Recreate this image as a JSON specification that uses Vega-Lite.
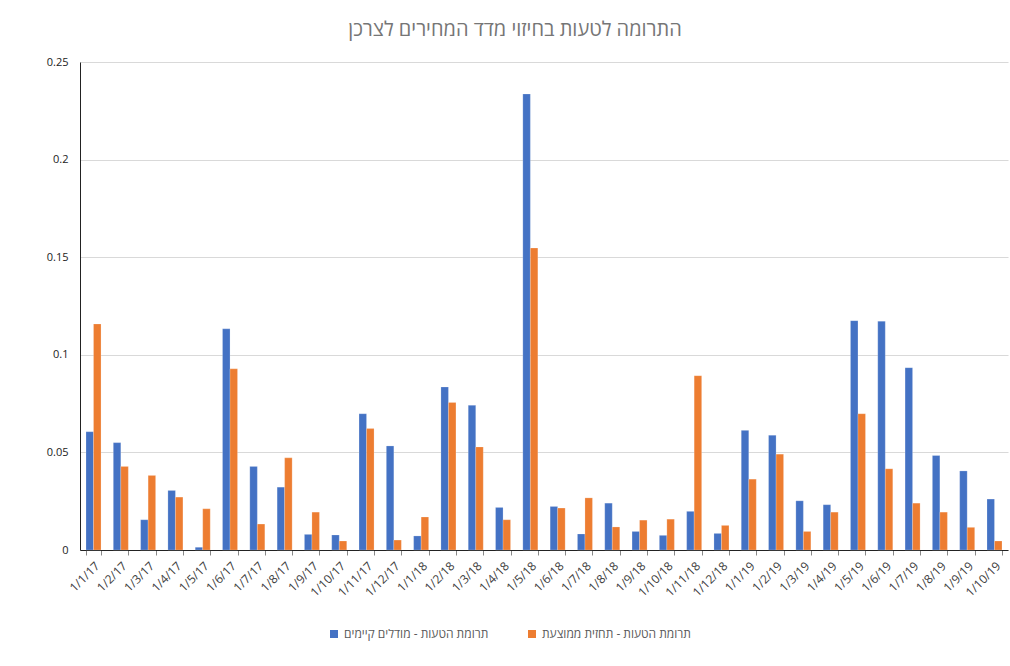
{
  "$schema": "https://vega.github.io/schema/vega-lite/v6.json",
  "width": 928,
  "height": 488,
  "autosize": {"type": "none"},
  "padding": {"left": 80, "top": 62, "right": 2, "bottom": 116},
  "background": "white",
  "title": {
    "text": "התרומה לטעות בחיזוי מדד המחירים לצרכן",
    "fontSize": 20,
    "fontWeight": "normal",
    "color": "#767676",
    "font": "Open Sans",
    "anchor": "middle",
    "dx": -29,
    "offset": 16
  },
  "data": {
    "values": [
      {"d": "1/1/17", "s": "תרומת הטעות - מודלים קיימים", "v": 0.0606},
      {"d": "1/1/17", "s": "תרומת הטעות - תחזית ממוצעת", "v": 0.1158},
      {"d": "1/2/17", "s": "תרומת הטעות - מודלים קיימים", "v": 0.0550},
      {"d": "1/2/17", "s": "תרומת הטעות - תחזית ממוצעת", "v": 0.0428},
      {"d": "1/3/17", "s": "תרומת הטעות - מודלים קיימים", "v": 0.0155},
      {"d": "1/3/17", "s": "תרומת הטעות - תחזית ממוצעת", "v": 0.0382},
      {"d": "1/4/17", "s": "תרומת הטעות - מודלים קיימים", "v": 0.0305},
      {"d": "1/4/17", "s": "תרומת הטעות - תחזית ממוצעת", "v": 0.0271},
      {"d": "1/5/17", "s": "תרומת הטעות - מודלים קיימים", "v": 0.0014},
      {"d": "1/5/17", "s": "תרומת הטעות - תחזית ממוצעת", "v": 0.0211},
      {"d": "1/6/17", "s": "תרומת הטעות - מודלים קיימים", "v": 0.1133},
      {"d": "1/6/17", "s": "תרומת הטעות - תחזית ממוצעת", "v": 0.0928},
      {"d": "1/7/17", "s": "תרומת הטעות - מודלים קיימים", "v": 0.0428},
      {"d": "1/7/17", "s": "תרומת הטעות - תחזית ממוצעת", "v": 0.0133},
      {"d": "1/8/17", "s": "תרומת הטעות - מודלים קיימים", "v": 0.0322},
      {"d": "1/8/17", "s": "תרומת הטעות - תחזית ממוצעת", "v": 0.0472},
      {"d": "1/9/17", "s": "תרומת הטעות - מודלים קיימים", "v": 0.0080},
      {"d": "1/9/17", "s": "תרומת הטעות - תחזית ממוצעת", "v": 0.0194},
      {"d": "1/10/17", "s": "תרומת הטעות - מודלים קיימים", "v": 0.0077},
      {"d": "1/10/17", "s": "תרומת הטעות - תחזית ממוצעת", "v": 0.0046},
      {"d": "1/11/17", "s": "תרומת הטעות - מודלים קיימים", "v": 0.0698},
      {"d": "1/11/17", "s": "תרומת הטעות - תחזית ממוצעת", "v": 0.0622},
      {"d": "1/12/17", "s": "תרומת הטעות - מודלים קיימים", "v": 0.0533},
      {"d": "1/12/17", "s": "תרומת הטעות - תחזית ממוצעת", "v": 0.0051},
      {"d": "1/1/18", "s": "תרומת הטעות - מודלים קיימים", "v": 0.0072},
      {"d": "1/1/18", "s": "תרומת הטעות - תחזית ממוצעת", "v": 0.0169},
      {"d": "1/2/18", "s": "תרומת הטעות - מודלים קיימים", "v": 0.0835},
      {"d": "1/2/18", "s": "תרומת הטעות - תחזית ממוצעת", "v": 0.0756},
      {"d": "1/3/18", "s": "תרומת הטעות - מודלים קיימים", "v": 0.0741},
      {"d": "1/3/18", "s": "תרומת הטעות - תחזית ממוצעת", "v": 0.0528},
      {"d": "1/4/18", "s": "תרומת הטעות - מודלים קיימים", "v": 0.0218},
      {"d": "1/4/18", "s": "תרומת הטעות - תחזית ממוצעת", "v": 0.0155},
      {"d": "1/5/18", "s": "תרומת הטעות - מודלים קיימים", "v": 0.2336},
      {"d": "1/5/18", "s": "תרומת הטעות - תחזית ממוצעת", "v": 0.1547},
      {"d": "1/6/18", "s": "תרומת הטעות - מודלים קיימים", "v": 0.0223},
      {"d": "1/6/18", "s": "תרומת הטעות - תחזית ממוצעת", "v": 0.0215},
      {"d": "1/7/18", "s": "תרומת הטעות - מודלים קיימים", "v": 0.0082},
      {"d": "1/7/18", "s": "תרומת הטעות - תחזית ממוצעת", "v": 0.0267},
      {"d": "1/8/18", "s": "תרומת הטעות - מודלים קיימים", "v": 0.0240},
      {"d": "1/8/18", "s": "תרומת הטעות - תחזית ממוצעת", "v": 0.0118},
      {"d": "1/9/18", "s": "תרומת הטעות - מודלים קיימים", "v": 0.0095},
      {"d": "1/9/18", "s": "תרומת הטעות - תחזית ממוצעת", "v": 0.0153},
      {"d": "1/10/18", "s": "תרומת הטעות - מודלים קיימים", "v": 0.0075},
      {"d": "1/10/18", "s": "תרומת הטעות - תחזית ממוצעת", "v": 0.0158},
      {"d": "1/11/18", "s": "תרומת הטעות - מודלים קיימים", "v": 0.0198},
      {"d": "1/11/18", "s": "תרומת הטעות - תחזית ממוצעת", "v": 0.0893},
      {"d": "1/12/18", "s": "תרומת הטעות - מודלים קיימים", "v": 0.0085},
      {"d": "1/12/18", "s": "תרומת הטעות - תחזית ממוצעת", "v": 0.0126},
      {"d": "1/1/19", "s": "תרומת הטעות - מודלים קיימים", "v": 0.0613},
      {"d": "1/1/19", "s": "תרומת הטעות - תחזית ממוצעת", "v": 0.0363},
      {"d": "1/2/19", "s": "תרומת הטעות - מודלים קיימים", "v": 0.0588},
      {"d": "1/2/19", "s": "תרומת הטעות - תחזית ממוצעת", "v": 0.0491},
      {"d": "1/3/19", "s": "תרומת הטעות - מודלים קיימים", "v": 0.0252},
      {"d": "1/3/19", "s": "תרומת הטעות - תחזית ממוצעת", "v": 0.0095},
      {"d": "1/4/19", "s": "תרומת הטעות - מודלים קיימים", "v": 0.0232},
      {"d": "1/4/19", "s": "תרומת הטעות - תחזית ממוצעת", "v": 0.0194},
      {"d": "1/5/19", "s": "תרומת הטעות - מודלים קיימים", "v": 0.1175},
      {"d": "1/5/19", "s": "תרומת הטעות - תחזית ממוצעת", "v": 0.0698},
      {"d": "1/6/19", "s": "תרומת הטעות - מודלים קיימים", "v": 0.1172},
      {"d": "1/6/19", "s": "תרומת הטעות - תחזית ממוצעת", "v": 0.0416},
      {"d": "1/7/19", "s": "תרומת הטעות - מודלים קיימים", "v": 0.0934},
      {"d": "1/7/19", "s": "תרומת הטעות - תחזית ממוצעת", "v": 0.0240},
      {"d": "1/8/19", "s": "תרומת הטעות - מודלים קיימים", "v": 0.0484},
      {"d": "1/8/19", "s": "תרומת הטעות - תחזית ממוצעת", "v": 0.0194},
      {"d": "1/9/19", "s": "תרומת הטעות - מודלים קיימים", "v": 0.0405},
      {"d": "1/9/19", "s": "תרומת הטעות - תחזית ממוצעת", "v": 0.0116},
      {"d": "1/10/19", "s": "תרומת הטעות - מודלים קיימים", "v": 0.0261},
      {"d": "1/10/19", "s": "תרומת הטעות - תחזית ממוצעת", "v": 0.0046}
    ]
  },
  "mark": {"type": "bar", "stroke": "white", "strokeWidth": 0.5, "strokeOpacity": 0.4},
  "encoding": {
    "x": {
      "field": "d",
      "type": "nominal",
      "sort": null,
      "title": null,
      "scale": {"paddingInner": 0.45, "paddingOuter": 0.22},
      "axis": {
        "labelAngle": -45,
        "labelFontSize": 12,
        "labelColor": "#404040",
        "labelFont": "Open Sans",
        "domainColor": "#222222",
        "tickColor": "#888888",
        "tickSize": 5,
        "tickBand": "extent",
        "labelPadding": 5
      }
    },
    "xOffset": {
      "field": "s",
      "type": "nominal",
      "scale": {"domain": ["תרומת הטעות - מודלים קיימים", "תרומת הטעות - תחזית ממוצעת"], "paddingInner": 0}
    },
    "y": {
      "field": "v",
      "type": "quantitative",
      "title": null,
      "scale": {"domain": [0, 0.25], "nice": false},
      "axis": {
        "values": [0, 0.05, 0.1, 0.15, 0.2, 0.25],
        "format": ".2~f",
        "labelFontSize": 11,
        "labelColor": "#222222",
        "labelFont": "Open Sans",
        "labelPadding": 12,
        "ticks": false,
        "domainColor": "#222222",
        "gridColor": "#d9d9d9",
        "gridWidth": 1
      }
    },
    "color": {
      "field": "s",
      "type": "nominal",
      "scale": {
        "domain": ["תרומת הטעות - מודלים קיימים", "תרומת הטעות - תחזית ממוצעת"],
        "range": ["#4472C4", "#ED7D31"]
      },
      "legend": {
        "title": null,
        "orient": "none",
        "direction": "horizontal",
        "legendX": 248,
        "legendY": 566,
        "symbolType": "square",
        "symbolSize": 64,
        "symbolStrokeWidth": 0,
        "labelFontSize": 12,
        "labelColor": "#595959",
        "labelFont": "Open Sans",
        "columnPadding": 37,
        "symbolOffset": 0
      }
    }
  },
  "config": {
    "view": {"stroke": null}
  }
}
